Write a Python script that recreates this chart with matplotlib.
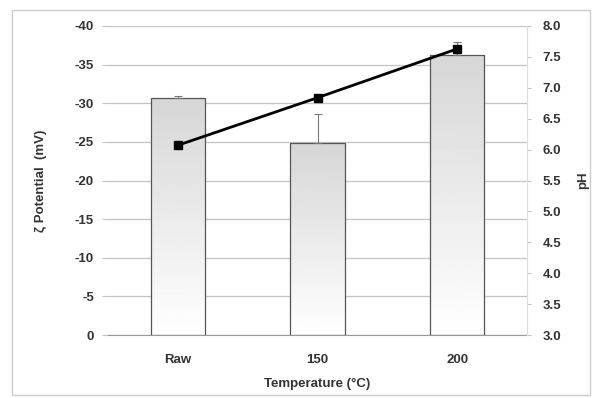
import matplotlib
matplotlib.use("Agg")
import matplotlib.pyplot as plt
import numpy as np
from matplotlib.patches import Rectangle

plt.rcParams["font.family"] = ["Liberation Sans", "DejaVu Sans"]
plt.rcParams["axes.unicode_minus"] = False

# data
categories = ["Raw", "150", "200"]
zeta_mv = [-30.7, -24.8, -36.3]
zeta_err = [0.3, 3.8, 1.6]
ph = [6.07, 6.84, 7.63]

FS = 9.5
TXT = "#333333"

fig = plt.figure(figsize=(5.95, 3.98), dpi=100)
ax = fig.add_axes([108 / 595, 1 - 335 / 398, (527 - 108) / 595, (335 - 26) / 398])

x = np.arange(len(categories))
bars = ax.bar(x, zeta_mv, width=0.39, facecolor="none", edgecolor="#555555",
              linewidth=0.9, zorder=3)
# gradient fill: grey at top, white at bottom
grad = np.linspace(0.84, 1.0, 256).reshape(-1, 1)
for b in bars:
    x0, y0 = b.get_x(), b.get_y()
    w, h = b.get_width(), b.get_height()
    im = ax.imshow(grad, cmap="gray", vmin=0, vmax=1, aspect="auto",
                   extent=[x0, x0 + w, y0, y0 + h], origin="upper", zorder=2)
    im.set_clip_path(b)
# error bars only on the outward (more negative) side
ax.errorbar(x, zeta_mv, yerr=[zeta_err, [0] * 3], fmt="none", ecolor="#777777",
            elinewidth=0.8, capsize=3, capthick=0.8, zorder=4)

ax.set_xlim(-0.5, 2.5)
ax.set_ylim(0, -40)
ax.set_yticks(np.arange(0, -41, -5))
ax.set_xticks(x)
ax.set_xticklabels(categories)
ax.grid(True, axis="y", color="#c4c4c4", linewidth=0.9, zorder=0)
ax.set_axisbelow(True)
for s in ["left", "right", "top"]:
    ax.spines[s].set_visible(False)
ax.spines["bottom"].set_color("#999999")
ax.tick_params(axis="y", length=4, color="#c4c4c4", labelsize=FS, pad=6)
ax.tick_params(axis="x", length=0, labelsize=FS, pad=14)
for t in ax.get_yticklabels() + ax.get_xticklabels():
    t.set_fontweight("bold")
    t.set_color(TXT)
ax.set_ylabel("ζ Potential  (mV)", fontsize=FS, fontweight="bold", color=TXT, labelpad=20)
ax.set_xlabel("Temperature (°C)", fontsize=FS, fontweight="bold", color=TXT, labelpad=8)

ax2 = ax.twinx()
ax2.plot(x, ph, color="black", linewidth=2, marker="s", markersize=6, zorder=5)
ax2.set_ylim(3.0, 8.0)
ax2.set_yticks(np.arange(3.0, 8.01, 0.5))
ax2.set_yticklabels([f"{v:.1f}" for v in np.arange(3.0, 8.01, 0.5)])
for s in ["left", "top", "bottom"]:
    ax2.spines[s].set_visible(False)
ax2.spines["right"].set_color("#dddddd")
ax2.tick_params(axis="y", length=3, color="#c4c4c4", labelsize=FS, pad=8)
for t in ax2.get_yticklabels():
    t.set_fontweight("bold")
    t.set_color(TXT)
ax2.set_ylabel("pH", fontsize=FS, fontweight="bold", color=TXT, labelpad=12)

# outer frame
fig.patches.append(Rectangle((12 / 595, 3 / 398), 578 / 595, 385 / 398,
                             transform=fig.transFigure, fill=False,
                             edgecolor="#cccccc", linewidth=1))

fig.savefig("out.png", dpi=100)
